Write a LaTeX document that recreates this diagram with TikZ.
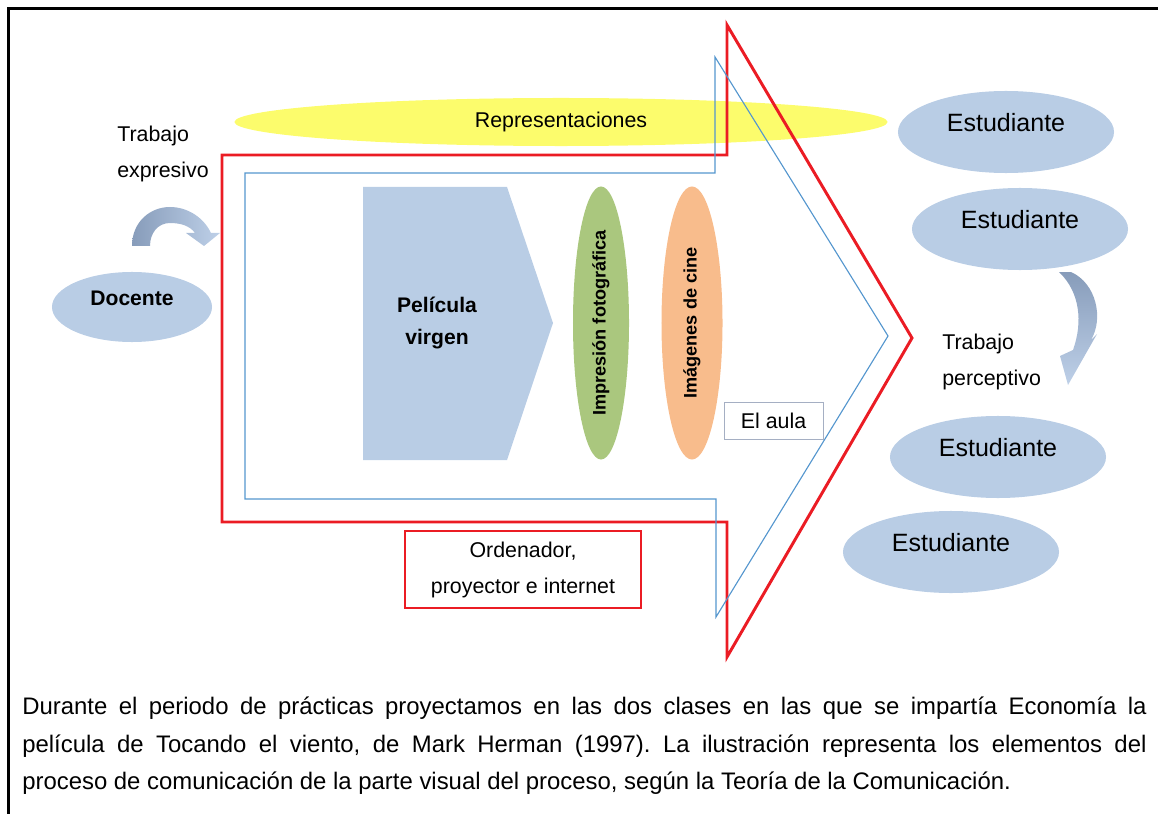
\documentclass[tikz,border=0pt]{standalone}
\usepackage{fontspec}
\setmainfont{Liberation Sans}
\usetikzlibrary{shapes.geometric}

\definecolor{elipblue}{RGB}{185,205,229}
\definecolor{repyellow}{RGB}{252,252,108}
\definecolor{impgreen}{RGB}{170,199,126}
\definecolor{cineorange}{RGB}{248,188,140}
\definecolor{aulared}{RGB}{235,28,36}
\definecolor{aulablue}{RGB}{84,150,206}
\definecolor{boxgray}{RGB}{165,175,195}
\definecolor{arrdark}{RGB}{135,156,186}
\definecolor{arrlight}{RGB}{190,208,232}

\begin{document}
\begin{tikzpicture}[x=0.025cm,y=-0.025cm,
  estudiante/.style={ellipse,fill=elipblue,minimum width=5.4cm,minimum height=2.05cm,
  text depth=.5cm,font=\fontsize{17.8}{20}\selectfont},
  docente/.style={ellipse,fill=elipblue,minimum width=4cm,minimum height=1.75cm,
  text depth=.45cm,font=\fontsize{15}{18}\selectfont\bfseries},
  lente/.style={ellipse,rotate=90,minimum width=6.825cm,inner sep=1pt,
  font=\fontsize{12.9}{15}\selectfont\bfseries},
  plain/.style={font=\fontsize{15.2}{25.6}\selectfont,inner sep=0pt},
  caja/.style={rectangle,font=\fontsize{15.2}{25.6}\selectfont,align=center},
  caption/.style={text width=28.1cm,align=justify,inner sep=0pt,
  font=\fontsize{17}{26.7}\selectfont\frenchspacing}]

  \useasboundingbox (0,0) rectangle (1158,814);

  % marco
  \draw[line width=1.9pt] (8.7,814) -- (8.7,8.7) -- (1158,8.7);

  % representaciones (detras de las flechas)
  \node[ellipse,fill=repyellow,minimum width=16.325cm,minimum height=1.2cm,
    font=\fontsize{15.2}{18}\selectfont] (REP) at (561,122) {Representaciones};

  % flechas del aula
  \draw[aulared,line width=2.1pt] (222,155) -- (727,155) -- (727,25) -- (912,338)
    -- (727,657) -- (727,522) -- (222,522) -- cycle;
  \draw[aulablue,line width=.8pt] (245,173) -- (715,173) -- (715,57) -- (888,336)
    -- (716,617) -- (716,499) -- (245,499) -- cycle;

  % pelicula virgen
  \fill[elipblue] (363,187) -- (507,187) -- (553,323) -- (507,460) -- (363,460) -- cycle;
  \node[plain,font=\fontsize{15}{23}\selectfont\bfseries,align=center] (PV) at (437,323) {Película\\virgen};

  \node[lente,fill=impgreen,minimum height=1.4cm] (IF) at (601,323) {Impresión fotográfica};
  \node[lente,fill=cineorange,minimum height=1.525cm] (IC) at (692,323) {Imágenes de cine};

  \node[caja,draw=boxgray,line width=.6pt,minimum width=2.475cm,minimum height=.925cm] (AULA) at (773.5,420.5) {El aula};
  \node[caja,draw=aulared,line width=.8pt,minimum width=5.9cm,minimum height=1.925cm] (ORD) at (523,569.5) {Ordenador,\\proyector e internet};

  % docente y trabajo expresivo
  \node[docente] (DOC) at (132,307) {Docente};
  \node[plain,align=left,anchor=west] (TE) at (117,154) {Trabajo\\expresivo};
  \path[left color=arrdark,right color=arrlight] (132,246) .. controls (132,222) and (150,207) .. (170,207)
    .. controls (188,207) and (204,218) .. (211,233) -- (220,233) -- (204,246) -- (186,233) -- (195,233)
    .. controls (190,226) and (181,223) .. (170,223) .. controls (158,223) and (150,233) .. (150,246) -- cycle;

  % estudiantes y trabajo perceptivo
  \node[estudiante] (E1) at (1006,132) {Estudiante};
  \node[estudiante] (E2) at (1020,229) {Estudiante};
  \node[estudiante] (E3) at (998,457) {Estudiante};
  \node[estudiante] (E4) at (951,552) {Estudiante};
  \node[plain,align=left,anchor=west] (TP) at (942,361.5) {Trabajo\\perceptivo};
  \path[top color=arrdark,bottom color=arrlight] (1059,272) -- (1071,272) .. controls (1096,283) and (1104,318) .. (1091,340)
    -- (1097,334) -- (1068,385) -- (1060,356) -- (1073,350) .. controls (1083,322) and (1080,292) .. (1059,272) -- cycle;

  \node[caption,anchor=north west] (CAP) at (22,697) {Durante el periodo de prácticas proyectamos en las dos clases en las que se impartía Economía la\linebreak
    película de Tocando el viento, de Mark Herman (1997). La ilustración representa los elementos del\linebreak
    proceso de comunicación de la parte visual del proceso, según la Teoría de la Comunicación.};

\end{tikzpicture}
\end{document}
